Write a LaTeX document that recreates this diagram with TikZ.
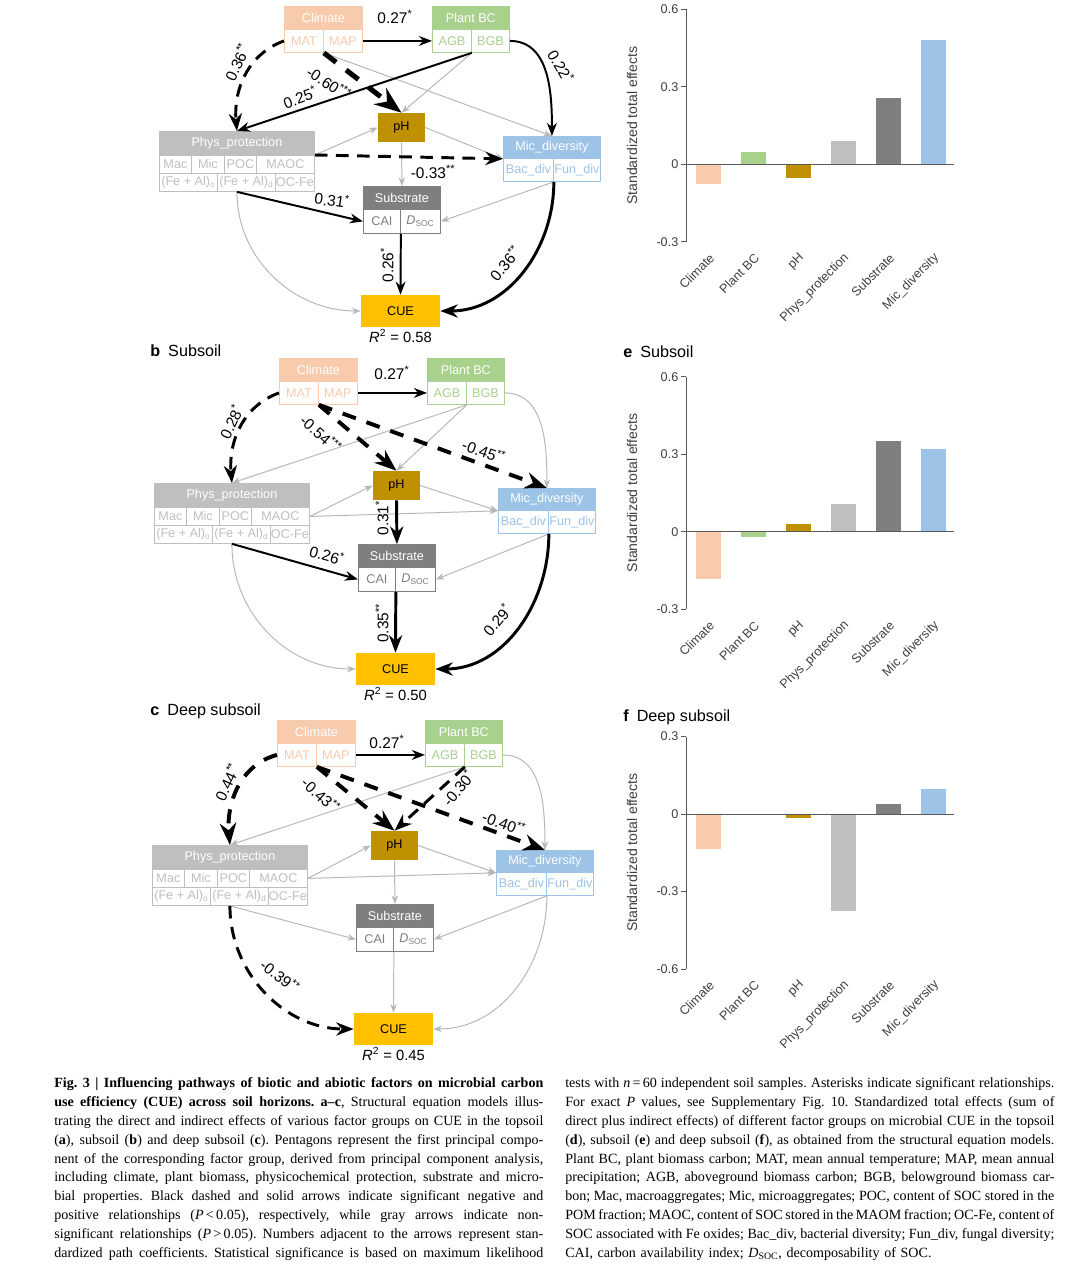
\documentclass[tikz,border=0pt]{standalone}
\usepackage{fontspec}
\setmainfont{Liberation Serif}
\setsansfont{Liberation Sans}
\usetikzlibrary{arrows.meta, positioning, calc}
\setlength{\parindent}{0pt}

\definecolor{climc}{HTML}{F8CBAD}
\definecolor{plantc}{HTML}{A9D18E}
\definecolor{phc}{HTML}{BF9000}
\definecolor{physc}{HTML}{BFBFBF}
\definecolor{subc}{HTML}{7F7F7F}
\definecolor{micc}{HTML}{9DC3E6}
\definecolor{cuec}{HTML}{FFC000}
\definecolor{nsc}{HTML}{B8B8B8}
\definecolor{axisc}{HTML}{595959}
\definecolor{txtc}{HTML}{404040}

\def\px{0.025cm}
\def\ux{258.3}
\newcommand{\capbox}[1]{\makebox[12.225cm][s]{\frenchspacing\spaceskip=0.25em plus 1.5em minus 0.12em\relax #1}}
\newcommand{\capline}[1]{\capbox{#1}\\}

\tikzset{
  sz/.style 2 args={minimum width=#1*\px, minimum height=#2*\px},
  hdr/.style={fill=#1, draw=#1, text=white, anchor=north west, inner sep=0pt, line width=0.6pt},
  cell/.style={fill=white, draw=#1, text=#1, anchor=north west, inner sep=0pt, line width=0.6pt},
  solidbox/.style={fill=#1, inner sep=0pt, text=black},
  nonsig/.style={draw=nsc, line width=0.7pt, -{Stealth}},
  possig/.style={draw=black, line width=1.4pt, -{Stealth}},
  negsig/.style={possig, dash pattern=on 9pt off 6pt},
  coef/.style={font=\sffamily\fontsize{11}{12}\selectfont, inner sep=1pt},
  rsq/.style={anchor=base, font=\sffamily\fontsize{10.5}{12}\selectfont},
  panel/.style={anchor=base west, inner sep=0pt, font=\sffamily\fontsize{11.5}{13}\selectfont},
  axisline/.style={draw=axisc, line width=0.6pt},
  ticklbl/.style={anchor=east, inner sep=1pt, text=txtc, font=\sffamily\fontsize{9}{10}\selectfont},
  catlbl/.style={anchor=east, rotate=45, inner sep=1pt, text=txtc, font=\sffamily\fontsize{9}{10}\selectfont},
  ylbl/.style={rotate=90, text=txtc, font=\sffamily\fontsize{10}{11}\selectfont},
  capcol/.style={anchor=north west, inner sep=0pt, text width=12.225cm, font=\rmfamily\fontsize{10}{13.4}\selectfont}
}

% boxes of one structural equation model
\newcommand{\semnodes}[3]{% #1 prefix, #2 extra drop of the middle column, #3 R^2
  % climate and plant biomass
  \node[hdr=climc, sz={78}{23}] (#1-clh) at (284,6) {Climate};
  \node[cell=climc, sz={39}{23}] (#1-mat) at (284,29) {MAT};
  \node[cell=climc, sz={39}{23}] (#1-map) at (323,29) {MAP};
  \node[hdr=plantc, sz={77}{23}] (#1-pbh) at (432,6) {Plant BC};
  \node[cell=plantc, sz={39}{23}] (#1-agb) at (432,29) {AGB};
  \node[cell=plantc, sz={38}{23}] (#1-bgb) at (471,29) {BGB};
  % physical protection
  \node[hdr=physc, sz={155}{24}] (#1-phh) at (159,131) {Phys\_protection};
  \foreach \nm/\x/\w/\txt in {mac/159/32/Mac, mic/191/33/Mic, poc/224/32/POC, maoc/256/58/MAOC}
    \node[cell=physc, sz={\w}{18}] (#1-\nm) at (\x,155) {\txt};
  \foreach \nm/\x/\w/\txt in {feo/159/58/{(Fe + Al)\textsubscript{o}}, fed/217/58/{(Fe + Al)\textsubscript{d}}, ocfe/275/39/OC-Fe}
    \node[cell=physc, sz={\w}{18}] (#1-\nm) at (\x,173) {\txt};
  \coordinate (#1-physb) at (#1-phh.south |- #1-fed.south);
  % microbial diversity
  \node[hdr=micc, sz={97}{22}] (#1-mich) at (503,136) {Mic\_diversity};
  \node[cell=micc, sz={50}{23}] (#1-bac) at (503,158) {Bac\_div};
  \node[cell=micc, sz={47}{23}] (#1-fun) at (553,158) {Fun\_div};
  % middle column
  \node[solidbox=phc, sz={47}{29}] (#1-ph) at (401.5,127.5+#2) {pH};
  \node[hdr=subc, sz={77}{23}] (#1-sbh) at (363,186+#2) {Substrate};
  \node[cell=subc, sz={37}{24}] (#1-cai) at (363,209+#2) {CAI};
  \node[cell=subc, sz={40}{24}] (#1-dsoc) at (400,209+#2) {\textit{D}\textsubscript{SOC}};
  \node[solidbox=cuec, sz={79}{32}] (#1-cue) at (400.5,311+#2) {CUE};
  \node[rsq] (#1-r2) at (400.5,342+#2) {\textit{R}\textsuperscript{2} = #3};
}

% bar chart of standardized total effects
\newcommand{\effectbars}[6]{% #1 name, #2 y of zero, #3 top, #4 bottom, #5 ticks, #6 values
  \foreach \c/\txt [count=\i from 0] in {climc/Climate, plantc/Plant BC, phc/pH, physc/Phys\_protection, subc/Substrate, micc/Mic\_diversity}{
    \pgfmathsetmacro{\v}{{#6}[\i]}
    \fill[\c] ({696+45*\i},#2) rectangle ++(25,{-1*(\v)*\ux});
    \node[catlbl] (#1-c\i) at ({713+45*\i},{#2-(#4)*\ux+13}) {\txt};
  }
  \draw[axisline] (686,{#2-(#3)*\ux}) -- (686,{#2-(#4)*\ux});
  \draw[axisline] (686,#2) -- (954,#2);
  \foreach \t [count=\k] in {#5}{
    \draw[axisline] (681,{#2-(\t)*\ux}) -- (686,{#2-(\t)*\ux});
    \node[ticklbl] (#1-t\k) at (680,{#2-(\t)*\ux}) {\t};
  }
  \node[ylbl] (#1-y) at (632,{#2-((#3)+(#4))/2*\ux}) {Standardized total effects};
}

\begin{document}
\begin{tikzpicture}[x=0.025cm, y=-0.025cm, font=\sffamily\fontsize{9}{10}\selectfont]
  \path[use as bounding box, fill=white] (0,0) rectangle (1080,1269);

  % a: topsoil
  \semnodes{a}{0}{0.58}
  \draw[nonsig] (a-agb.south east) -- (a-ph.north);
  \draw[nonsig] (a-mat.south east) -- (a-mich.north);
  \draw[nonsig] (a-maoc.north east) -- (a-ph.west);
  \draw[nonsig] (a-ph.east) -- (a-mich.south west);
  \draw[nonsig] (a-ph.south) -- (a-sbh.north);
  \draw[nonsig] (a-physb) to[out=-90, in=180] (a-cue.west);
  \draw[nonsig] (a-bac.south east) -- (a-dsoc.east);
  \draw[possig] (a-map.east) -- (a-agb.west);
  \draw[negsig, line width=2.1pt] (a-mat.west) to[out=200, in=95] (a-phh.north);
  \draw[negsig, line width=3.6pt, dash pattern=on 11pt off 9pt] (a-mat.south east) -- (a-ph.north);
  \draw[possig] (a-agb.south east) -- (a-phh.north);
  \draw[possig] (a-bgb.east) to[out=0, in=90] (a-mich.north);
  \draw[negsig, line width=2.1pt] (a-maoc.north east) -- (a-mich.south west);
  \draw[possig] (a-physb) -- (a-cai.west);
  \draw[possig] (a-cai.south east) -- (a-cue.north);
  \draw[possig, line width=2.1pt] (a-bac.south east) to[out=-90, in=0] (a-cue.east);
  \node[coef] (a-w1) at (395,17) {0.27\textsuperscript{*}};
  \node[coef, rotate=65] (a-w2) at (237,62) {0.36\textsuperscript{**}};
  \node[coef, rotate=-33] (a-w3) at (329,83) {-0.60\textsuperscript{***}};
  \node[coef, rotate=20] (a-w4) at (300,97) {0.25\textsuperscript{*}};
  \node[coef, rotate=-60] (a-w5) at (561,66) {0.22\textsuperscript{*}};
  \node[coef] (a-w6) at (433,172) {-0.33\textsuperscript{**}};
  \node[coef, rotate=-8] (a-w7) at (332,200) {0.31\textsuperscript{*}};
  \node[coef, rotate=90] (a-w8) at (387,265) {0.26\textsuperscript{*}};
  \node[coef, rotate=50] (a-w9) at (505,263) {0.36\textsuperscript{**}};

  % b: subsoil
  \node[panel] (b-title) at (150,356) {\textbf{b}\enspace Subsoil};
  \begin{scope}[shift={(-5,352)}]
    \semnodes{b}{6}{0.50}
  \end{scope}
  \draw[nonsig] (b-agb.south east) -- (b-phh.north);
  \draw[nonsig] (b-agb.south east) -- (b-ph.north);
  \draw[nonsig] (b-bgb.east) to[out=0, in=90] (b-mich.north);
  \draw[nonsig] (b-maoc.east) -- (b-ph.west);
  \draw[nonsig] (b-ph.east) -- (b-mich.south west);
  \draw[nonsig] (b-maoc.east) -- (b-mich.south west);
  \draw[nonsig] (b-physb) to[out=-90, in=180] (b-cue.west);
  \draw[nonsig] (b-bac.south east) -- (b-dsoc.east);
  \draw[possig] (b-map.east) -- (b-agb.west);
  \draw[negsig, line width=2.1pt] (b-mat.west) to[out=200, in=95] (b-phh.north);
  \draw[negsig, line width=2.8pt, dash pattern=on 10pt off 8pt] (b-mat.south east) -- (b-ph.north);
  \draw[negsig, line width=2.8pt, dash pattern=on 10pt off 8pt] (b-mat.south east) -- (b-mich.north);
  \draw[possig, line width=2.1pt] (b-ph.south) -- (b-sbh.north);
  \draw[possig] (b-physb) -- (b-cai.west);
  \draw[possig, line width=2.1pt] (b-cai.south east) -- (b-cue.north);
  \draw[possig, line width=2.1pt] (b-bac.south east) to[out=-90, in=0] (b-cue.east);
  \node[coef] (b-w1) at (392,373) {0.27\textsuperscript{*}};
  \node[coef, rotate=65] (b-w2) at (231,422) {0.28\textsuperscript{*}};
  \node[coef, rotate=-42] (b-w3) at (321,434) {-0.54\textsuperscript{***}};
  \node[coef, rotate=-20] (b-w4) at (484,451) {-0.45\textsuperscript{**}};
  \node[coef, rotate=90] (b-w5) at (382,518) {0.31\textsuperscript{*}};
  \node[coef, rotate=-16] (b-w6) at (327,555) {0.26\textsuperscript{*}};
  \node[coef, rotate=90] (b-w7) at (382,623) {0.35\textsuperscript{**}};
  \node[coef, rotate=50] (b-w8) at (497,620) {0.29\textsuperscript{*}};

  % c: deep subsoil
  \node[panel] (c-title) at (150,715) {\textbf{c}\enspace Deep subsoil};
  \begin{scope}[shift={(-7,714)}]
    \semnodes{c}{4}{0.45}
  \end{scope}
  \draw[nonsig] (c-agb.south east) -- (c-phh.north);
  \draw[nonsig] (c-bgb.east) to[out=0, in=90] (c-mich.north);
  \draw[nonsig] (c-maoc.east) -- (c-ph.west);
  \draw[nonsig] (c-ph.east) -- (c-mich.south west);
  \draw[nonsig] (c-maoc.east) -- (c-mich.south west);
  \draw[nonsig] (c-ph.south) -- (c-sbh.north);
  \draw[nonsig] (c-physb) -- (c-cai.west);
  \draw[nonsig] (c-bac.south east) -- (c-dsoc.east);
  \draw[nonsig] (c-cai.south east) -- (c-cue.north);
  \draw[nonsig] (c-bac.south east) to[out=-90, in=0] (c-cue.east);
  \draw[possig] (c-map.east) -- (c-agb.west);
  \draw[negsig, line width=2.8pt, dash pattern=on 10pt off 8pt] (c-mat.west) to[out=195, in=95] (c-phh.north);
  \draw[negsig, line width=2.8pt, dash pattern=on 10pt off 8pt] (c-mat.south east) -- (c-ph.north);
  \draw[negsig, line width=2.8pt, dash pattern=on 10pt off 8pt] (c-mat.south east) -- (c-mich.north);
  \draw[negsig, line width=2.1pt] (c-agb.south east) -- (c-ph.north);
  \draw[negsig, line width=2.1pt] (c-physb) to[out=-90, in=180] (c-cue.west);
  \node[coef] (c-w1) at (387,742) {0.27\textsuperscript{*}};
  \node[coef, rotate=65] (c-w2) at (227,782) {0.44\textsuperscript{**}};
  \node[coef, rotate=-42] (c-w3) at (321,795) {-0.43\textsuperscript{**}};
  \node[coef, rotate=50] (c-w4) at (458,788) {-0.30\textsuperscript{*}};
  \node[coef, rotate=-20] (c-w5) at (504,823) {-0.40\textsuperscript{**}};
  \node[coef, rotate=-38] (c-w6) at (280,976) {-0.39\textsuperscript{**}};

  % d-f: total effects
  \effectbars{d}{164.3}{0.6}{-0.3}{0.6,0.3,0,-0.3}{-0.078,0.046,-0.052,0.089,0.256,0.483}
  \node[panel] (e-title) at (623,357) {\textbf{e}\enspace Subsoil};
  \effectbars{e}{531.7}{0.6}{-0.3}{0.6,0.3,0,-0.3}{-0.184,-0.019,0.030,0.108,0.351,0.319}
  \node[panel] (f-title) at (623,721) {\textbf{f}\enspace Deep subsoil};
  \effectbars{f}{814}{0.3}{-0.6}{0.3,0,-0.3,-0.6}{-0.134,0,-0.017,-0.376,0.037,0.097}

  % caption
  \node[capcol] (capl) at (54,1077.5) {%
    \capline{\textbf{Fig. 3 | Influencing pathways of biotic and abiotic factors on microbial carbon}}
    \capline{\textbf{use efficiency (CUE) across soil horizons. a–c}, Structural equation models illus-}
    \capline{trating the direct and indirect effects of various factor groups on CUE in the topsoil}
    \capline{(\textbf{a}), subsoil (\textbf{b}) and deep subsoil (\textbf{c}). Pentagons represent the first principal compo-}
    \capline{nent of the corresponding factor group, derived from principal component analysis,}
    \capline{including climate, plant biomass, physicochemical protection, substrate and micro-}
    \capline{bial properties. Black dashed and solid arrows indicate significant negative and}
    \capline{positive relationships (\textit{P}\,<\,0.05), respectively, while gray arrows indicate non-}
    \capline{significant relationships (\textit{P}\,>\,0.05). Numbers adjacent to the arrows represent stan-}
    \capbox{dardized path coefficients. Statistical significance is based on maximum likelihood}};
  \node[capcol] (capr) at (565,1077.5) {%
    \capline{tests with \textit{n}\,=\,60 independent soil samples. Asterisks indicate significant relationships.}
    \capline{For exact \textit{P} values, see Supplementary Fig. 10. Standardized total effects (sum of}
    \capline{direct plus indirect effects) of different factor groups on microbial CUE in the topsoil}
    \capline{(\textbf{d}), subsoil (\textbf{e}) and deep subsoil (\textbf{f}), as obtained from the structural equation models.}
    \capline{Plant BC, plant biomass carbon; MAT, mean annual temperature; MAP, mean annual}
    \capline{precipitation; AGB, aboveground biomass carbon; BGB, belowground biomass car-}
    \capline{bon; Mac, macroaggregates; Mic, microaggregates; POC, content of SOC stored in the}
    \capline{POM fraction; MAOC, content of SOC stored in the MAOM fraction; OC-Fe, content of}
    \capline{SOC associated with Fe oxides; Bac\_div, bacterial diversity; Fun\_div, fungal diversity;}
    \frenchspacing CAI, carbon availability index; \textit{D}\textsubscript{SOC}, decomposability of SOC.};
\end{tikzpicture}
\end{document}
